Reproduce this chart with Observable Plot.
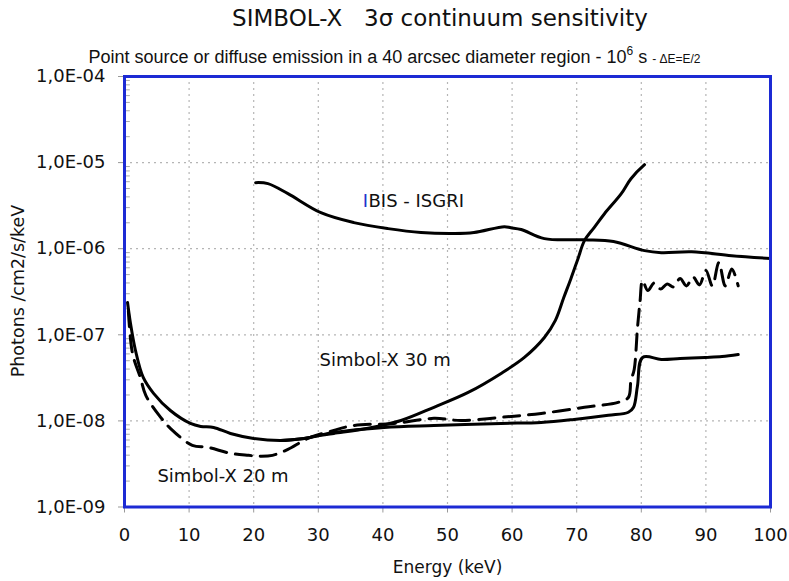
<!DOCTYPE html>
<html><head><meta charset="utf-8">
<script src="https://cdn.jsdelivr.net/npm/d3@7"></script>
<script src="https://cdn.jsdelivr.net/npm/@observablehq/plot@0.6"></script>
<style>
body{margin:0;background:#fff;}
#wrap{position:relative;width:789px;height:581px;overflow:hidden;font-family:"DejaVu Sans",sans-serif;color:#111;background:#fff;}
#title{position:absolute;top:3px;left:0;width:880px;text-align:center;font-size:23px;line-height:30px;white-space:pre;z-index:2;}
#subtitle{position:absolute;top:46px;left:0;width:789px;text-align:center;font-size:18px;line-height:22px;font-family:"Liberation Sans",Arial,sans-serif;white-space:nowrap;z-index:2;}
#subtitle sup{font-size:12px;vertical-align:8px;line-height:0;}
#subtitle .small{font-size:12px;}
#ylabel{position:absolute;left:18px;top:291px;transform:translate(-50%,-50%) rotate(-90deg);font-size:17.5px;white-space:nowrap;z-index:2;}
#chart{position:absolute;top:62px;left:0;z-index:1;}
</style></head>
<body>
<div id="wrap">
  <div id="title">SIMBOL-X   3σ continuum sensitivity</div>
  <div id="subtitle">Point source or diffuse emission in a 40 arcsec diameter region - 10<sup>6</sup> s <span class="small">- ΔE=E/2</span></div>
  <div id="chart"></div>
  <div id="ylabel">Photons /cm2/s/keV</div>
</div>
<script>
// ---- data ----
const xTicks = [0, 10, 20, 30, 40, 50, 60, 70, 80, 90, 100];
const yTicks = [1e-9, 1e-8, 1e-7, 1e-6, 1e-5, 1e-4];

// IBIS - ISGRI
const ibisE = [20.3, 22.2, 25.3, 30.4, 35.5, 40.8, 45.9, 51.0, 54.1, 58.8, 59.8, 61.4, 65.0, 71.2, 75.7, 80.5, 83.1, 87.8, 94, 100];
const ibisF = [5.85e-6, 5.7e-6, 4.36e-6, 2.62e-6, 2.01e-6, 1.71e-6, 1.54e-6, 1.50e-6, 1.54e-6, 1.80e-6, 1.75e-6, 1.67e-6, 1.31e-6, 1.27e-6, 1.21e-6, 9.5e-7, 9.0e-7, 9.2e-7, 8.3e-7, 7.7e-7];

// solid curve rising steeply to 80 keV
const riseE = [0.47, 0.93, 1.7, 2.9, 4.5, 7.1, 10.2, 11.8, 13.8, 16.4, 20.0, 24.2, 27.8, 30.4, 32.4, 37.7, 42.8, 47.9, 53.2, 58.3, 61.9, 65.0, 66.7, 68.0, 69.1, 70.2, 71.2, 72.7, 74.3, 76.9, 78.4, 80.5];
const riseF = [2.37e-7, 1.35e-7, 6.57e-8, 3.2e-8, 2.09e-8, 1.32e-8, 9.35e-9, 8.63e-9, 8.4e-9, 7.15e-9, 6.26e-9, 5.93e-9, 6.26e-9, 6.79e-9, 7.16e-9, 8.2e-9, 1.01e-8, 1.44e-8, 2.14e-8, 3.56e-8, 5.46e-8, 9.3e-8, 1.47e-7, 2.71e-7, 4.49e-7, 7.66e-7, 1.24e-6, 1.76e-6, 2.55e-6, 4.36e-6, 6.5e-6, 9.46e-6];

// solid flat curve with step at 79 keV
const flatE = [24.2, 27.8, 32.4, 40.2, 47.9, 58.3, 64.5, 69.6, 74.9, 78.0, 78.8, 79.4, 80.2, 83.1, 86, 89.9, 92.5, 95.0];
const flatF = [5.93e-9, 6.26e-9, 7.35e-9, 8.4e-9, 8.85e-9, 9.35e-9, 9.6e-9, 1.04e-8, 1.16e-8, 1.26e-8, 1.44e-8, 2.52e-8, 5.46e-8, 5.17e-8, 5.3e-8, 5.46e-8, 5.6e-8, 5.9e-8];

// dashed curve
const dashE = [0.6, 1.24, 2.5, 3.3, 5.6, 7.1, 10.5, 12.9, 16.4, 19.2, 21.1, 22.9, 25.3, 28.4, 32.4, 35.5, 41.7, 47.9, 52.1, 58.3, 64.5, 71.2, 76.4, 78.0, 78.4, 78.9, 79.4, 79.8, 80.2, 81, 82, 83, 84, 85, 86, 87, 88, 89, 90, 91, 92, 93, 94, 95];
const dashF = [1.9e-7, 6.07e-8, 3.11e-8, 1.98e-8, 1.1e-8, 8.2e-9, 5.2e-9, 4.93e-9, 4.2e-9, 3.98e-9, 3.89e-9, 3.98e-9, 4.67e-9, 6.26e-9, 7.76e-9, 8.85e-9, 9.35e-9, 1.07e-8, 1.01e-8, 1.1e-8, 1.22e-8, 1.44e-8, 1.64e-8, 1.87e-8, 2.95e-8, 3.96e-8, 1.18e-7, 2.43e-7, 4.26e-7, 3.26e-7, 4.0e-7, 3.4e-7, 3.9e-7, 3.6e-7, 4.5e-7, 3.7e-7, 4.7e-7, 3.8e-7, 5.6e-7, 3.7e-7, 6.9e-7, 3.7e-7, 5.8e-7, 3.7e-7];

// annotation labels
const labelText = ["Simbol-X 30 m", "Simbol-X 20 m"];
const labelE = [30.2, 5.1];
const labelF = [5.03e-8, 2.3e-9];
const ibisLabelFirst = "I";
const ibisLabelRest = "BIS - ISGRI";
const ibisLabelE = [36.9];
const ibisLabelF = [3.56e-6];

// ---- build tables ----
const toRows = (E, F) => E.map((e, i) => ({e, f: F[i]}));
const ibis = toRows(ibisE, ibisF);
const rise = toRows(riseE, riseF);
const flat = toRows(flatE, flatF);
const dash = toRows(dashE, dashF);
const labels = labelText.map((t, i) => ({t, e: labelE[i], f: labelF[i]}));
const ibisLab = toRows(ibisLabelE, ibisLabelF);
const minorY = [];
for (let k = -9; k < -4; k++) for (let m = 2; m <= 9; m++) minorY.push(m * Math.pow(10, k));

const fmt = d => {
  const ex = Math.round(Math.log10(d));
  return "1,0E" + (ex < 0 ? "-" : "+") + String(Math.abs(ex)).padStart(2, "0");
};

const lineOpts = {x: "e", y: "f", stroke: "#000", strokeWidth: 3, curve: "catmull-rom"};

const chart = Plot.plot({
  width: 789,
  height: 519,
  marginLeft: 124,
  marginRight: 19,
  marginTop: 14,
  marginBottom: 74.5,
  style: {fontFamily: "DejaVu Sans, sans-serif", fontSize: "18px", background: "none", color: "#111", overflow: "visible"},
  x: {domain: [0, 100], label: null},
  y: {type: "log", domain: [1e-9, 1e-4], label: null},
  marks: [
    Plot.ruleY(yTicks.slice(1, -1), {stroke: "#b5b5b5", strokeDasharray: "2,4", strokeWidth: 1.2}),
    Plot.ruleX(xTicks.slice(1, -1), {stroke: "#b5b5b5", strokeDasharray: "2,4", strokeWidth: 1.2}),
    Plot.ruleY(minorY, {x1: () => 0, x2: () => 0.9, stroke: "#aaa"}),
    Plot.axisX({ticks: xTicks, tickSize: 6, tickPadding: 15, stroke: "#999", fill: "#111", fontSize: 18, label: null}),
    Plot.axisY({ticks: yTicks, tickSize: 6, tickPadding: 13, tickFormat: fmt, stroke: "#999", fill: "#111", fontSize: 18, label: null}),
    Plot.line(ibis, lineOpts),
    Plot.line(flat, lineOpts),
    Plot.line(rise, lineOpts),
    Plot.line(dash, {...lineOpts, strokeDasharray: "16,9"}),
    Plot.frame({stroke: "#1c2ad4", strokeWidth: 3}),
    Plot.text(labels, {x: "e", y: "f", text: "t", textAnchor: "start", fontSize: 18, fill: "#111"}),
    Plot.text(ibisLab, {x: "e", y: "f", text: () => ibisLabelFirst, textAnchor: "start", fontSize: 18, fill: "#2233cc"}),
    Plot.text(ibisLab, {x: "e", y: "f", text: () => ibisLabelRest, textAnchor: "start", dx: 5.6, fontSize: 18, fill: "#111"}),
    Plot.text(["Energy (keV)"], {frameAnchor: "bottom", textAnchor: "middle", lineAnchor: "middle", dy: 61, fontSize: 17, fill: "#111"})
  ]
});
document.getElementById("chart").appendChild(chart);
</script>
</body></html>
